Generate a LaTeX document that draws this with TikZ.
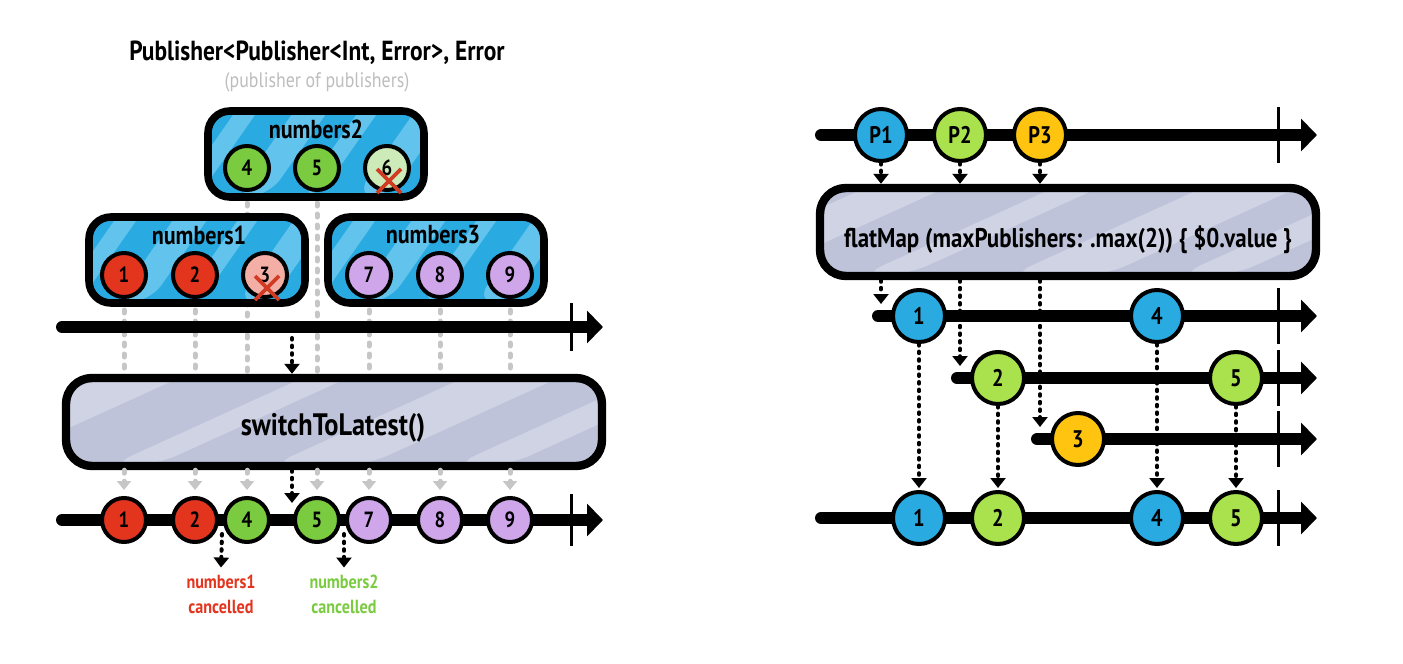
\documentclass[tikz,border=0pt]{standalone}
\usepackage{fontspec}
\setmainfont[FakeStretch=0.85]{PT Sans}
\usetikzlibrary{arrows.meta,calc}
\pgfdeclarelayer{bg}
\pgfsetlayers{bg,main}

\definecolor{boxblue}{HTML}{29ABE2}
\definecolor{stripeblue}{HTML}{62C3EC}
\definecolor{opgray}{HTML}{BEC3DA}
\definecolor{stripegray}{HTML}{CFD3E4}
\definecolor{ballred}{HTML}{E3341D}
\definecolor{ballredlt}{HTML}{F3AFA5}
\definecolor{ballgreen}{HTML}{7ACB3F}
\definecolor{ballgreenlt}{HTML}{CDEBB8}
\definecolor{ballpurple}{HTML}{CFA6EA}
\definecolor{ballblue}{HTML}{29ABE2}
\definecolor{balllime}{HTML}{A9E24D}
\definecolor{ballorange}{HTML}{FFC40F}
\definecolor{dotgray}{HTML}{C6C6C6}
\definecolor{subgray}{HTML}{BDBDBD}
\definecolor{xred}{HTML}{D13B23}

\begin{document}
\begin{tikzpicture}[
    x=0.5pt, y=-0.5pt,
    groupstripes/.style={
        path picture={
            \foreach \s/\w in {-0.15/22,0.12/34,0.42/20,0.68/34,0.95/20}
                \fill[stripeblue] ($(path picture bounding box.south west)!\s!(path picture bounding box.south east)$)
                    -- ++(\w,0) -- ++(70,-100) -- ++(-\w,0) -- cycle;
        }
    },
    opstripes/.style={
        path picture={
            \foreach \s/\w in {-0.3/80,0.08/45,0.38/95,0.72/55}
                \fill[stripegray] ($(path picture bounding box.south west)!\s!(path picture bounding box.south east)$)
                    -- ++(\w,0) -- ++(220,-100) -- ++(-\w,0) -- cycle;
        }
    },
    group/.style={
        draw,
        line width=3.8pt,
        rounded corners=11pt,
        fill=boxblue,
        groupstripes,
        minimum width=108pt,
        minimum height=43pt
    },
    operator/.style={
        draw,
        line width=4.2pt,
        rounded corners=13pt,
        fill=opgray,
        opstripes,
        minimum height=44pt
    },
    grouplabel/.style={font=\bfseries\fontsize{13}{15}\selectfont},
    oplabel/.style={font=\bfseries\fontsize{#1}{16}\selectfont},
    ball/.style={
        circle,
        draw,
        line width=2pt,
        fill=#1,
        minimum size=22pt,
        inner sep=0pt,
        font=\bfseries\fontsize{11}{13}\selectfont
    },
    bigball/.style={
        ball=#1,
        minimum size=26pt,
        font=\bfseries\fontsize{12}{14}\selectfont
    },
    timeline/.style={
        line width=6pt,
        line cap=round,
        -{Triangle[width=16pt,length=8pt]}
    },
    tick/.style={line width=1.5pt},
    dotarrow/.style={
        line width=2pt,
        dash pattern=on 0.8pt off 3pt,
        line cap=round,
        -{Triangle[width=7.5pt,length=5pt]}
    },
    graydots/.style={
        dotgray,
        line width=2.5pt,
        dash pattern=on 1.5pt off 4pt,
        line cap=round
    },
    grayarrow/.style={
        graydots,
        -{Triangle[width=7pt,length=4.5pt]}
    },
    xmark/.style={xred, line width=1.8pt},
    cancel/.style={font=\bfseries\fontsize{9.5}{12.5}\selectfont, align=center}
]
    \useasboundingbox (0,0) rectangle (1403,664);

    % --- Title ---
    \node[font=\bfseries\fontsize{13.8}{15}\selectfont] (ttl) at (317,53) {Publisher<Publisher<Int, Error>, Error};
    \node[font=\fontsize{10.5}{12}\selectfont, text=subgray] (sub) at (317,82) {(publisher of publishers)};

    % --- numbers2 ---
    \node[group] (g2) at (316,154) {};
    \node[grouplabel] (g2l) at (316,129) {numbers2};
    \node[ball=ballgreen] (n4) at (247,168) {4};
    \node[ball=ballgreen] (n5) at (317,168) {5};
    \node[ball=ballgreenlt] (n6) at (387,168) {6};
    \draw[xmark] ([shift={(-10,1)}]n6.center) -- ([shift={(14,25)}]n6.center);
    \draw[xmark] ([shift={(14,1)}]n6.center) -- ([shift={(-10,25)}]n6.center);

    % --- numbers1 ---
    \node[group] (g1) at (197,260) {};
    \node[grouplabel] (g1l) at (199,235) {numbers1};
    \node[ball=ballred] (n1) at (124,275) {1};
    \node[ball=ballred] (n2) at (195,275) {2};
    \node[ball=ballredlt] (n3) at (265,275) {3};
    \draw[xmark] ([shift={(-10,1)}]n3.center) -- ([shift={(14,25)}]n3.center);
    \draw[xmark] ([shift={(14,1)}]n3.center) -- ([shift={(-10,25)}]n3.center);

    % --- numbers3 ---
    \node[group] (g3) at (436,260) {};
    \node[grouplabel] (g3l) at (433,235) {numbers3};
    \node[ball=ballpurple] (n7) at (369,275) {7};
    \node[ball=ballpurple] (n8) at (440,275) {8};
    \node[ball=ballpurple] (n9) at (510,275) {9};

    % --- Outer timeline ---
    \coordinate (t1s) at (62,327);
    \coordinate (t1e) at (603,327);
    \coordinate (t1k) at (571,327);
    \draw[timeline] (t1s) -- (t1e);
    \draw[tick] ([yshift=12pt]t1k) -- ([yshift=-12pt]t1k);

    % --- switchToLatest ---
    \node[operator, minimum width=268pt] (sw) at (334,422) {};
    \node[oplabel=15.5] (swl) at (333,428) {switchToLatest()};

    % --- Output timeline ---
    \coordinate (t2s) at (62,520);
    \coordinate (t2e) at (603,520);
    \coordinate (t2k) at (571,520);
    \draw[timeline] (t2s) -- (t2e);
    \draw[tick] ([yshift=13pt]t2k) -- ([yshift=-13pt]t2k);
    \node[ball=ballred] (o1) at (124,520) {1};
    \node[ball=ballred] (o2) at (195,520) {2};
    \node[ball=ballgreen] (o4) at (247,520) {4};
    \node[ball=ballgreen] (o5) at (317,520) {5};
    \node[ball=ballpurple] (o7) at (369,520) {7};
    \node[ball=ballpurple] (o8) at (440,520) {8};
    \node[ball=ballpurple] (o9) at (510,520) {9};

    % switch points
    \coordinate (k1) at (292,338);
    \coordinate (k2) at (292,503);
    \draw[dotarrow] (k1) -- (k1 |- sw.north);
    \draw[dotarrow] (k2 |- sw.south) -- (k2);

    % cancellations
    \node[cancel, text=ballred] (c1) at (221,594) {numbers1\\cancelled};
    \node[cancel, text=ballgreen] (c2) at (344,594) {numbers2\\cancelled};
    \coordinate (c1a) at (222,534);
    \coordinate (c2a) at (344,534);
    \draw[dotarrow] (c1a) -- (c1.north);
    \draw[dotarrow] (c2a) -- (c2.north);

    % gray guides behind everything
    \begin{pgfonlayer}{bg}
        \foreach \n in {n1,n2,n4,n5,n7,n8,n9}
            \draw[graydots] (\n.south) -- (\n |- sw.north);
    \end{pgfonlayer}
    \foreach \n/\o in {n1/o1,n2/o2,n4/o4,n5/o5,n7/o7,n8/o8,n9/o9}
        \draw[grayarrow] (sw.south -| \n) -- ([yshift=3pt]\o.north);

    % ===== flatMap =====
    \coordinate (r0s) at (821,135);
    \coordinate (r0e) at (1317,135);
    \coordinate (r0k) at (1278,135);
    \draw[timeline] (r0s) -- (r0e);
    \draw[tick] ([yshift=14pt]r0k) -- ([yshift=-14pt]r0k);
    \node[bigball=ballblue] (p1) at (881,135) {P1};
    \node[bigball=balllime] (p2) at (960,135) {P2};
    \node[bigball=ballorange] (p3) at (1040,135) {P3};

    \node[operator, minimum width=248pt] (fm) at (1068,232) {};
    \node[oplabel=13.5] (fml) at (1068,240) {flatMap (maxPublishers: .max(2)) \{ \$0.value \}};

    \foreach \p in {p1,p2,p3}
        \draw[dotarrow] (\p.south) -- (\p |- fm.north);

    % --- inner publishers ---
    \coordinate (ras) at (878,316);
    \coordinate (rbs) at (957,378);
    \coordinate (rcs) at (1037,439);
    \foreach \r in {ras,rbs,rcs}{
        \draw[timeline] (\r) -- (\r -| r0e);
        \draw[tick] ([yshift=14pt]\r -| r0k) -- ([yshift=-14pt]\r -| r0k);
    }
    \draw[dotarrow, shorten >=6pt] (fm.south -| p1) -- (p1 |- ras);
    \draw[dotarrow, shorten >=6pt] (fm.south -| p2) -- (p2 |- rbs);
    \draw[dotarrow, shorten >=6pt] (fm.south -| p3) -- (p3 |- rcs);

    \node[bigball=ballblue] (a1) at (919,316) {1};
    \node[bigball=ballblue] (a4) at (1157,316) {4};
    \node[bigball=balllime] (b2) at (998,378) {2};
    \node[bigball=balllime] (b5) at (1236,378) {5};
    \node[bigball=ballorange] (c3) at (1078,439) {3};

    % --- merged output ---
    \coordinate (rzs) at (821,518);
    \coordinate (rze) at (1317,518);
    \coordinate (rzk) at (1278,518);
    \draw[timeline] (rzs) -- (rze);
    \draw[tick] ([yshift=14pt]rzk) -- ([yshift=-14pt]rzk);
    \node[bigball=ballblue] (q1) at (919,518) {1};
    \node[bigball=balllime] (q2) at (998,518) {2};
    \node[bigball=ballblue] (q4) at (1157,518) {4};
    \node[bigball=balllime] (q5) at (1236,518) {5};

    \foreach \a/\q in {a1/q1,b2/q2,a4/q4,b5/q5}
        \draw[dotarrow, shorten >=1pt] (\a.south) -- (\q.north);
\end{tikzpicture}
\end{document}
